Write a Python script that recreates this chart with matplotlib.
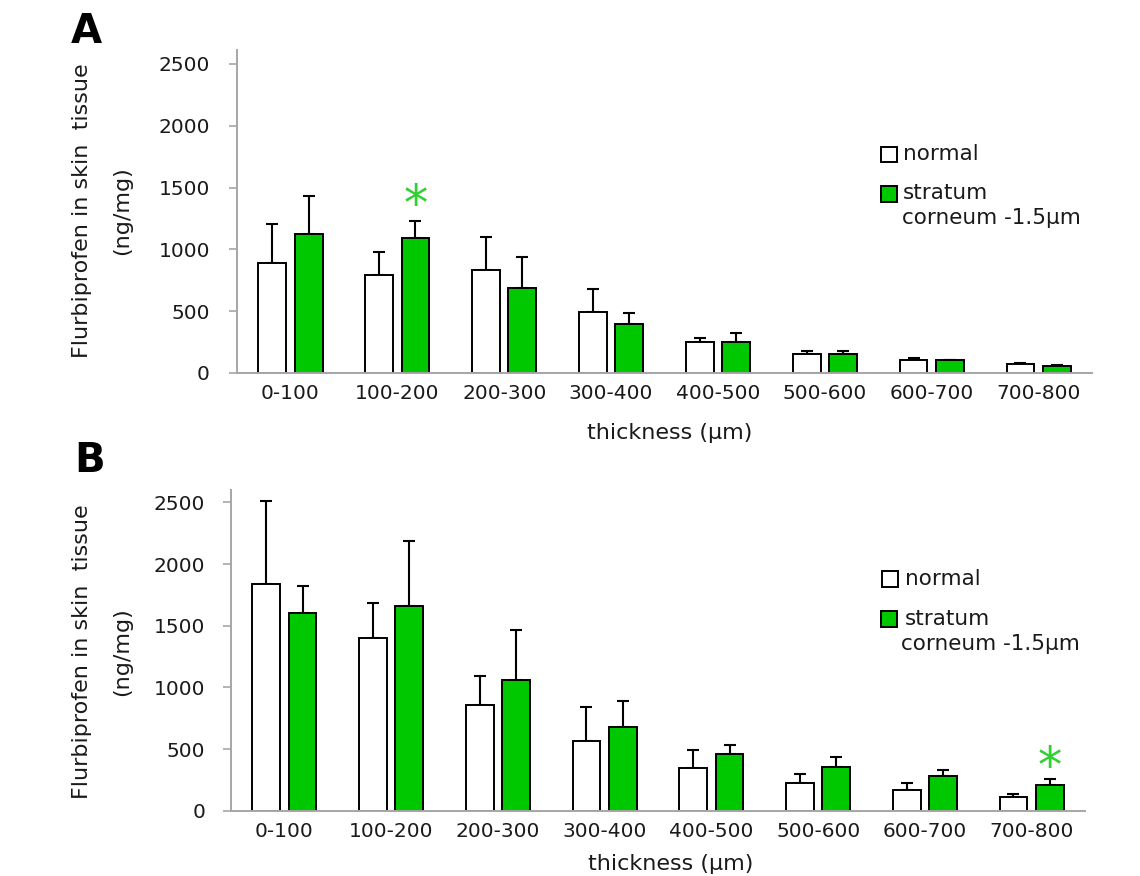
import matplotlib
matplotlib.use("Agg")
import matplotlib.pyplot as plt
import numpy as np
from matplotlib.patches import Rectangle

plt.rcParams['font.family'] = ['DejaVu Sans']

categories = ["0-100", "100-200", "200-300", "300-400", "400-500", "500-600", "600-700", "700-800"]
yticks = [0, 500, 1000, 1500, 2000, 2500]

# Panel A
normal_A = [892, 790, 833, 496, 248, 151, 103, 75]
normal_A_sd = [311, 191, 265, 181, 33, 27, 18, 8]
sc_A = [1125, 1095, 685, 394, 248, 151, 103, 59]
sc_A_sd = [310, 132, 251, 89, 73, 27, 5, 3]
sig_A = [1]  # category index with significance star

# Panel B
normal_B = [1835, 1397, 854, 562, 343, 227, 168, 108]
normal_B_sd = [672, 289, 235, 276, 146, 70, 54, 30]
sc_B = [1600, 1659, 1059, 678, 459, 357, 284, 211]
sc_B_sd = [218, 527, 408, 208, 73, 75, 43, 43]
sig_B = [7]

legend_labels = ["normal", "stratum", "corneum -1.5\u00b5m"]
ylabel_lines = ["Flurbiprofen in skin  tissue", "(ng/mg)"]
xlabel = "thickness (\u00b5m)"

GREEN = "#00c800"
STAR = "#2fd12f"
AXC = "#a6a6a6"
TXT = "#1a1a1a"

W, H = 1140, 876
fig = plt.figure(figsize=(W / 100, H / 100), dpi=100)


def px_axes(l, r, b, t):
    return fig.add_axes([l / W, 1 - b / H, (r - l) / W, (b - t) / H])


def draw_panel(ax, normal, normal_sd, sc, sc_sd, sig, ytop, tickpad, staroff, leg):
    x = np.arange(len(categories))
    off, bw = 0.17, 0.26
    ax.bar(x - off, normal, bw, color="white", edgecolor="black", linewidth=1.4, zorder=2)
    ax.bar(x + off, sc, bw, color=GREEN, edgecolor="black", linewidth=1.4, zorder=2)
    z = np.zeros(len(x))
    ax.errorbar(x - off, normal, yerr=[z, normal_sd], fmt="none", ecolor="black",
                elinewidth=1.5, capsize=4.5, capthick=1.5, zorder=1)
    ax.errorbar(x + off, sc, yerr=[z, sc_sd], fmt="none", ecolor="black",
                elinewidth=1.5, capsize=4.5, capthick=1.5, zorder=1)
    for i in sig:
        ax.annotate("*", (x[i] + off, sc[i] + sc_sd[i]), xytext=(0, staroff),
                    textcoords="offset points", ha="center", va="bottom",
                    fontsize=35, color=STAR)
    ax.set_xlim(-0.5, len(categories) - 0.5)
    ax.set_ylim(0, ytop)
    ax.set_xticks(x)
    ax.set_xticklabels(categories, fontsize=14.5, color=TXT)
    ax.set_yticks(yticks)
    ax.set_yticklabels([str(v) for v in yticks], fontsize=14.5, color=TXT)
    for s in ["top", "right"]:
        ax.spines[s].set_visible(False)
    for s in ["left", "bottom"]:
        ax.spines[s].set_color(AXC)
        ax.spines[s].set_linewidth(1.4)
    ax.tick_params(axis="x", length=0, pad=8)
    ax.tick_params(axis="y", direction="out", length=6, width=1.2, color=AXC, pad=tickpad)
    # legend (manual)
    (wx, wy, gx, gy, tx, ny, sy, cy, cx) = leg
    ax.add_patch(Rectangle((wx, wy), 0.0185, 0.048, transform=ax.transAxes,
                           facecolor="white", edgecolor="black", linewidth=1.4, clip_on=False))
    ax.add_patch(Rectangle((gx, gy), 0.0185, 0.050, transform=ax.transAxes,
                           facecolor=GREEN, edgecolor="black", linewidth=1.4, clip_on=False))
    ax.text(tx, ny, legend_labels[0], transform=ax.transAxes, fontsize=15.5,
            va="center", ha="left", color=TXT)
    ax.text(tx, sy, legend_labels[1], transform=ax.transAxes, fontsize=15.5,
            va="center", ha="left", color=TXT)
    ax.text(cx, cy, legend_labels[2], transform=ax.transAxes, fontsize=15.5,
            va="center", ha="left", color=TXT)


axA = px_axes(237, 1092, 373, 50)
draw_panel(axA, normal_A, normal_A_sd, sc_A, sc_A_sd, sig_A, 2613, 13.5, -6,
           (0.753, 0.652, 0.753, 0.530, 0.779, 0.6765, 0.557, 0.480, 0.7775))
axB = px_axes(231, 1085, 810.7, 490)
draw_panel(axB, normal_B, normal_B_sd, sc_B, sc_B_sd, sig_B, 2600, 12.5, -9,
           (0.762, 0.698, 0.761, 0.572, 0.789, 0.7225, 0.598, 0.520, 0.785))

# y labels
for yc in (211, 652):
    fig.text(82 / W, 1 - yc / H, ylabel_lines[0], rotation=90, fontsize=16,
             ha="center", va="center", color=TXT)
    fig.text(122 / W, 1 - yc / H, ylabel_lines[1], rotation=90, fontsize=16,
             ha="center", va="center", color=TXT)

# x labels
fig.text(670 / W, 1 - 433 / H, xlabel, fontsize=16, ha="center", va="center", color=TXT)
fig.text(671 / W, 1 - 864 / H, xlabel, fontsize=16, ha="center", va="center", color=TXT)

# panel letters
fig.text(86 / W, 1 - 32 / H, "A", fontsize=29, fontweight="bold", ha="center", va="center")
fig.text(90 / W, 1 - 461 / H, "B", fontsize=29, fontweight="bold", ha="center", va="center")

fig.savefig("out.png", dpi=100, facecolor="white")
